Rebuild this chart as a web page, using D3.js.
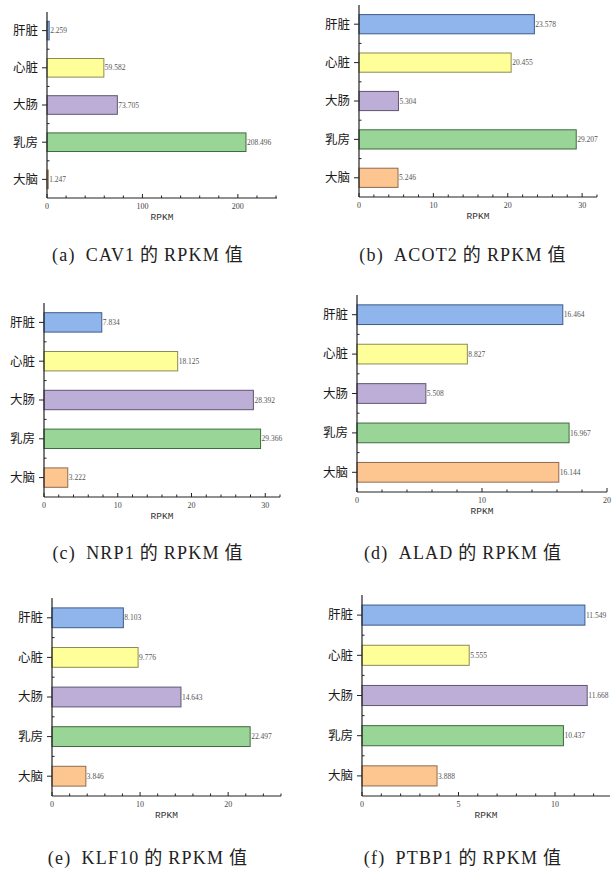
<!DOCTYPE html>
<html>
<head>
<meta charset="utf-8">
<script src="https://cdn.jsdelivr.net/npm/d3@7"></script>
<style>
  body { margin: 0; background: #fff; }
  svg { display: block; }
  .cat { font-family: "Noto Sans CJK SC", sans-serif; font-size: 12.5px; fill: #1a1a1a; }
  .tick-label { font-family: "Liberation Serif", serif; font-size: 8px; fill: #444; }
  .value { font-family: "Liberation Serif", serif; font-size: 7.5px; fill: #555; }
  .axis-title { font-family: "Liberation Mono", monospace; font-size: 9.5px; fill: #333; }
  .caption { font-family: "Liberation Serif", "Noto Sans CJK SC", serif; font-size: 18px; fill: #222; letter-spacing: 1.2px; }
</style>
</head>
<body>
<svg id="vis" width="612" height="870"></svg>
<script>
// tissues, top to bottom
const categories = ["肝脏", "心脏", "大肠", "乳房", "大脑"];

// RPKM values per gene (same order as categories)
const cav1 = [2.259, 59.582, 73.705, 208.496, 1.247];
const acot2 = [23.578, 20.455, 5.304, 29.207, 5.246];
const nrp1 = [7.834, 18.125, 28.392, 29.366, 3.222];
const alad = [16.464, 8.827, 5.508, 16.967, 16.144];
const klf10 = [8.103, 9.776, 14.643, 22.497, 3.846];
const ptbp1 = [11.549, 5.555, 11.668, 10.437, 3.888];

const captions = ["(a)\u2002CAV1\u2009的\u2009RPKM\u2009值", "(b)\u2002ACOT2\u2009的\u2009RPKM\u2009值",
                  "(c)\u2002NRP1\u2009的\u2009RPKM\u2009值", "(d)\u2002ALAD\u2009的\u2009RPKM\u2009值",
                  "(e)\u2002KLF10\u2009的\u2009RPKM\u2009值", "(f)\u2002PTBP1\u2009的\u2009RPKM\u2009值"];

// axis maximum and major tick step for each panel
const axisMax = [241, 32, 32, 20, 26, 12.85];
const tickStep = [100, 10, 10, 10, 10, 5];

const fills = ["#90b4ec", "#ffff99", "#bdaed7", "#98d596", "#fdc590"];
const strokes = ["#3e5c8a", "#8c8a55", "#5f5572", "#3f6b40", "#8c6c50"];

// panel frames (plot area in page pixels)
const panels = [
  {x0: 47,  x1: 277, top: 12,  bottom: 198, capX: 148, capY: 261},
  {x0: 359, x1: 597, top: 5,   bottom: 197, capX: 463, capY: 261},
  {x0: 44,  x1: 280, top: 303, bottom: 497, capX: 148, capY: 559},
  {x0: 357, x1: 607, top: 295, bottom: 492, capX: 463, capY: 559},
  {x0: 52,  x1: 281, top: 598, bottom: 796, capX: 148, capY: 864},
  {x0: 362, x1: 610, top: 595, bottom: 796, capX: 463, capY: 864}
];

const series = [cav1, acot2, nrp1, alad, klf10, ptbp1];

const svg = d3.select("svg#vis");

panels.forEach(function(p, i) {
  drawPanel(p, series[i], axisMax[i], tickStep[i], captions[i]);
});

function drawPanel(p, values, max, step, caption) {
  const g = svg.append("g");

  const x = d3.scaleLinear().domain([0, max]).range([p.x0, p.x1]);
  const y = d3.scaleBand().domain(categories).range([p.top, p.bottom])
    .paddingInner(0.5).paddingOuter(0.25);

  const rows = categories.map((c, k) => ({cat: c, value: values[k], k: k}));

  // bars
  g.selectAll("rect.bar")
    .data(rows)
    .enter()
    .append("rect")
    .attr("class", "bar")
    .attr("x", x(0))
    .attr("y", d => y(d.cat))
    .attr("width", d => x(d.value) - x(0))
    .attr("height", y.bandwidth())
    .attr("fill", d => fills[d.k])
    .attr("stroke", d => strokes[d.k])
    .attr("stroke-width", 1);

  // value labels
  g.selectAll("text.value")
    .data(rows)
    .enter()
    .append("text")
    .attr("class", "value")
    .attr("x", d => x(d.value) + 1)
    .attr("y", d => y(d.cat) + y.bandwidth() / 2)
    .attr("dy", "0.35em")
    .text(d => d.value.toFixed(3));

  // x axis, major + minor ticks
  const major = d3.range(0, max + 1e-9, step);
  const minor = d3.range(0, max + 1e-9, step / 5).filter(v => Math.abs(v / step - Math.round(v / step)) > 1e-6);

  g.append("line")
    .attr("x1", p.x0).attr("x2", p.x1)
    .attr("y1", p.bottom).attr("y2", p.bottom)
    .attr("stroke", "#222").attr("stroke-width", 1.2);

  g.selectAll("line.xmajor")
    .data(major)
    .enter()
    .append("line")
    .attr("x1", d => x(d)).attr("x2", d => x(d))
    .attr("y1", p.bottom).attr("y2", p.bottom - 4)
    .attr("stroke", "#222");

  g.selectAll("line.xminor")
    .data(minor)
    .enter()
    .append("line")
    .attr("x1", d => x(d)).attr("x2", d => x(d))
    .attr("y1", p.bottom).attr("y2", p.bottom - 2.5)
    .attr("stroke", "#222");

  g.selectAll("text.tick-label")
    .data(major)
    .enter()
    .append("text")
    .attr("class", "tick-label")
    .attr("x", d => x(d))
    .attr("y", p.bottom + 11)
    .attr("text-anchor", "middle")
    .text(d => d);

  g.append("text")
    .attr("class", "axis-title")
    .attr("x", (p.x0 + p.x1) / 2)
    .attr("y", p.bottom + 22)
    .attr("text-anchor", "middle")
    .text("RPKM");

  // y axis
  g.append("line")
    .attr("x1", p.x0).attr("x2", p.x0)
    .attr("y1", p.top).attr("y2", p.bottom)
    .attr("stroke", "#222").attr("stroke-width", 1.2);

  g.selectAll("line.ymajor")
    .data(categories)
    .enter()
    .append("line")
    .attr("x1", p.x0 - 5).attr("x2", p.x0)
    .attr("y1", d => y(d) + y.bandwidth() / 2)
    .attr("y2", d => y(d) + y.bandwidth() / 2)
    .attr("stroke", "#222");

  // small ticks at band boundaries
  const bounds = d3.range(1, categories.length).map(k => p.top + k * y.step());
  g.selectAll("line.yminor")
    .data(bounds)
    .enter()
    .append("line")
    .attr("x1", p.x0).attr("x2", p.x0 + 2.5)
    .attr("y1", d => d).attr("y2", d => d)
    .attr("stroke", "#222");

  g.selectAll("text.cat")
    .data(categories)
    .enter()
    .append("text")
    .attr("class", "cat")
    .attr("x", p.x0 - 9)
    .attr("y", d => y(d) + y.bandwidth() / 2)
    .attr("dy", "0.35em")
    .attr("text-anchor", "end")
    .text(d => d);

  // caption under the panel
  svg.append("text")
    .attr("class", "caption")
    .attr("x", p.capX)
    .attr("y", p.capY)
    .attr("text-anchor", "middle")
    .text(caption);
}
</script>
</body>
</html>
